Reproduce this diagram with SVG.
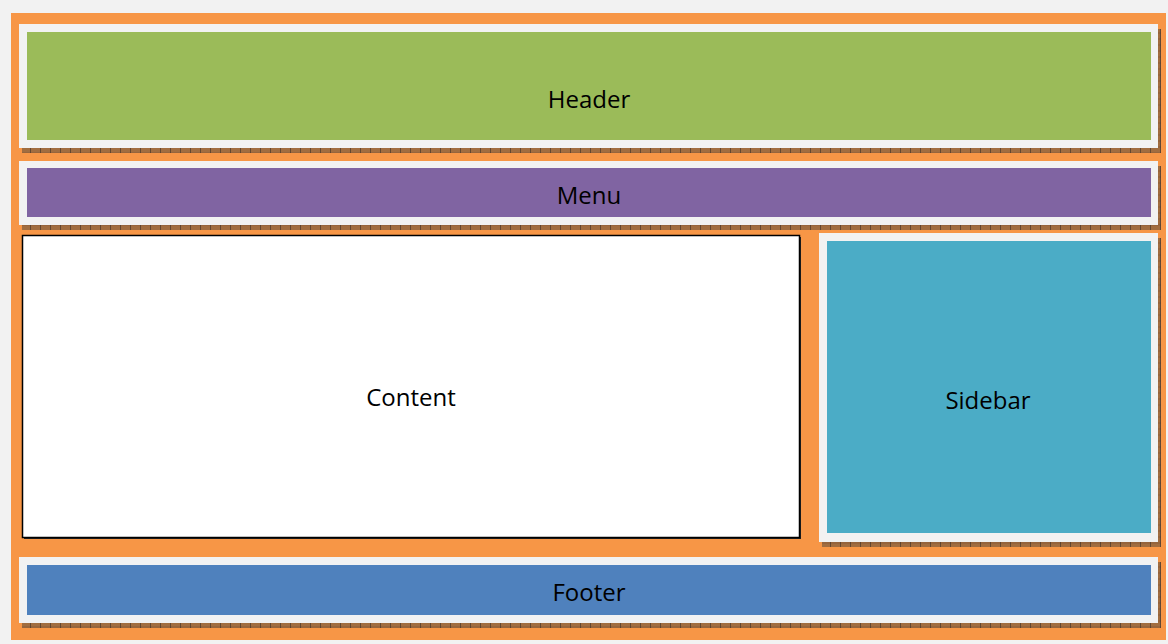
<svg xmlns="http://www.w3.org/2000/svg" width="1168" height="644" viewBox="0 0 1168 644">
  <defs>
    <pattern id="hatch" width="10" height="6" patternUnits="userSpaceOnUse">
      <rect width="10" height="6" fill="#5a4a3a" fill-opacity="0.55"/>
      <line x1="0.5" y1="0" x2="0.5" y2="6" stroke="#3a3028" stroke-opacity="0.6" stroke-width="1"/>
      <line x1="0" y1="3" x2="10" y2="3" stroke="#3a3028" stroke-opacity="0.25" stroke-width="1"/>
    </pattern>
    <style>
      .frame { fill: #f2f2f2; }
      .shadow { fill: url(#hatch); }
      .label { font-family: "Open Sans", "Liberation Sans", sans-serif; font-size: 24px; fill: #000; text-anchor: middle; }
    </style>
  </defs>
  <rect x="0" y="0" width="1168" height="644" fill="#f2f2f2"/>
  <rect x="11" y="13" width="1155" height="627" fill="#f79646"/>

  <g id="header">
    <rect class="shadow" x="22" y="29" width="1139" height="124"/>
    <rect class="frame" x="19" y="24" width="1139" height="124"/>
    <rect x="27" y="32" width="1124" height="108" fill="#9bbb59"/>
    <text class="label" x="589" y="108">Header</text>
  </g>

  <g id="menu">
    <rect class="shadow" x="22" y="166" width="1139" height="64"/>
    <rect class="frame" x="19" y="161" width="1139" height="64"/>
    <rect x="27" y="168" width="1124" height="49" fill="#8064a2"/>
    <text class="label" x="589" y="204">Menu</text>
  </g>

  <g id="content">
    <rect x="24" y="237" width="777" height="302" fill="#222"/>
    <rect x="22.5" y="235.5" width="777" height="302" fill="#ffffff" stroke="#000" stroke-width="1.5"/>
    <text class="label" x="411" y="406">Content</text>
  </g>

  <g id="sidebar">
    <rect class="shadow" x="822" y="238" width="339" height="309"/>
    <rect class="frame" x="819" y="233" width="339" height="309"/>
    <rect x="827" y="241" width="324" height="292" fill="#4bacc6"/>
    <text class="label" x="988" y="409">Sidebar</text>
  </g>

  <g id="footer">
    <rect class="shadow" x="22" y="562" width="1139" height="66"/>
    <rect class="frame" x="19" y="557" width="1139" height="66"/>
    <rect x="27" y="565" width="1124" height="50" fill="#4f81bd"/>
    <text class="label" x="589" y="601">Footer</text>
  </g>

  <g id="connectors"></g>
</svg>
